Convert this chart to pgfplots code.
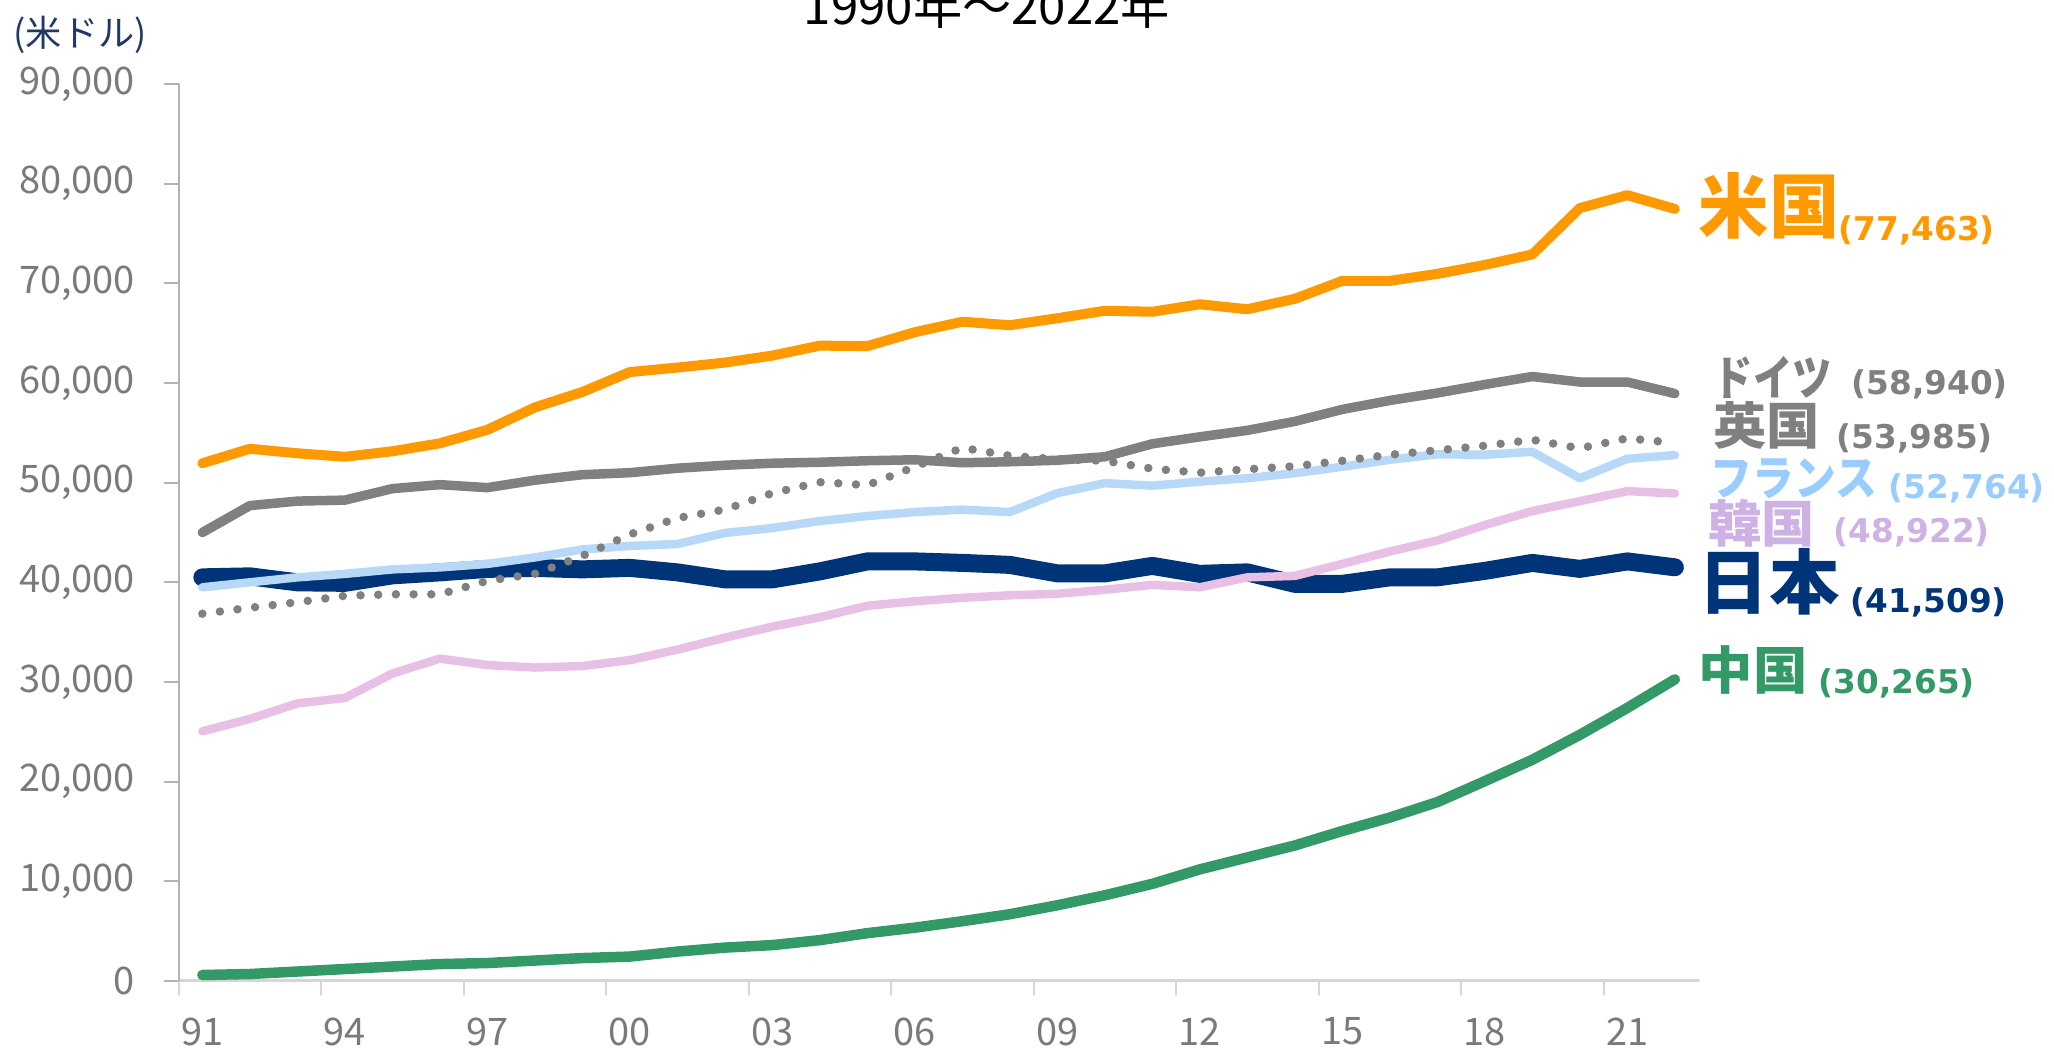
\documentclass[border=0pt]{standalone}
\usepackage{fontspec}
\setmainfont{Noto Sans CJK JP}
\newfontfamily\numfont{DejaVu Sans}
\usepackage{pgfplots}
\usepackage{pgfplotstable}
\pgfplotsset{compat=1.18}

\definecolor{cUS}{HTML}{FF9900}
\definecolor{cDE}{HTML}{808080}
\definecolor{cFRline}{HTML}{B8D8F8}
\definecolor{cFR}{HTML}{99CCFF}
\definecolor{cKRline}{HTML}{E8C0E6}
\definecolor{cKR}{HTML}{CEB2E6}
\definecolor{cJP}{HTML}{003478}
\definecolor{cCN}{HTML}{339966}
\definecolor{tickgray}{HTML}{7A7A7A}
\definecolor{unitnavy}{HTML}{203864}

% GDP per capita, 1991-2022 (USD)
\pgfplotstableread{
year us    de    uk    fr    kr    jp    cn
1991 51950 45000 36850 39500 25050 40500 600
1992 53400 47700 37450 40000 26300 40600 700
1993 52950 48150 38000 40500 27850 40000 950
1994 52600 48250 38650 40850 28400 39950 1200
1995 53150 49400 38800 41300 30850 40700 1450
1996 53950 49800 38800 41500 32350 41000 1700
1997 55300 49500 40150 41850 31700 41350 1800
1998 57550 50250 40850 42500 31450 41450 2050
1999 59100 50800 42650 43300 31600 41300 2300
2000 61100 51000 44800 43650 32200 41450 2450
2001 61550 51450 46450 43850 33250 41000 2950
2002 62050 51750 47300 44950 34450 40300 3350
2003 62750 51950 48950 45450 35550 40300 3600
2004 63750 52050 50050 46150 36500 41100 4100
2005 63700 52200 49750 46650 37650 42100 4800
2006 65100 52300 51600 47050 38100 42100 5350
2007 66150 52000 53500 47300 38450 41950 6000
2008 65800 52100 52700 47050 38700 41750 6700
2009 66500 52250 52350 48950 38850 40900 7600
2010 67250 52600 52200 49950 39250 40900 8600
2011 67150 53900 51400 49700 39750 41650 9750
2012 67900 54600 51000 50100 39500 40850 11200
2013 67400 55250 51350 50450 40500 41000 12400
2014 68450 56150 51650 50950 40650 39850 13600
2015 70250 57350 52200 51600 41850 39850 15050
2016 70250 58250 52800 52300 43100 40500 16400
2017 70950 59000 53250 52850 44200 40500 17950
2018 71850 59850 53700 52800 45750 41150 20050
2019 72900 60650 54300 53100 47150 41950 22200
2020 77550 60100 53450 50450 48150 41350 24700
2021 78850 60100 54450 52400 49150 42100 27400
2022 77463 58940 53985 52764 48922 41509 30265
}\gdp

% label fonts
\newcommand{\nm}[2]{{\fontsize{#1}{#1}\selectfont\bfseries #2}}
\newcommand{\val}[1]{{\fontsize{9.3pt}{10pt}\selectfont\numfont\bfseries (#1)}}

\begin{document}
\begin{tikzpicture}
\useasboundingbox (0,0) rectangle (205.4mm,105.6mm);

\begin{axis}[
    at={(17.86mm,7.5mm)}, anchor=south west,
    scale only axis, width=152mm, height=89.7mm,
    xmin=1990.5, xmax=2022.5, ymin=0, ymax=90000,
    axis x line*=bottom, axis y line*=left,
    x axis line style={draw=black!16, line width=0.3mm, -},
    y axis line style={draw=black!30, line width=0.2mm, -},
    xtick={1991,1994,...,2021},
    xticklabels={91,94,97,00,03,06,09,12,15,18,21},
    minor xtick={1990.5,1993.5,...,2020.5},
    major x tick style={draw=none},
    minor x tick style={draw=black!16, line width=0.2mm},
    ytick={0,10000,...,90000},
    major y tick style={draw=black!30, line width=0.2mm},
    tick align=outside,
    major tick length=1.4mm, minor tick length=1.4mm,
    scaled y ticks=false,
    /pgf/number format/fixed,
    /pgf/number format/1000 sep={,},
    /pgf/number format/assume math mode=true,
    ticklabel style={font=\fontsize{10.8pt}{12pt}\selectfont, text=tickgray},
    yticklabel style={anchor=east, inner sep=0pt, xshift=-2.9mm},
    xticklabel style={anchor=north, inner sep=0pt, yshift=-2.2mm},
    line join=round, line cap=round,
    clip=false,
]
\addplot[no markers, color=cJP, line width=1.8mm] table[x=year, y=jp] {\gdp};
\addplot[no markers, color=cKRline, line width=0.85mm] table[x=year, y=kr] {\gdp};
\addplot[no markers, color=cFRline, line width=0.85mm] table[x=year, y=fr] {\gdp};
\addplot[no markers, color=cDE, line width=0.85mm, dash pattern=on 0pt off 1.77mm] table[x=year, y=uk] {\gdp};
\addplot[no markers, color=cDE, line width=0.95mm] table[x=year, y=de] {\gdp};
\addplot[no markers, color=cUS, line width=1.0mm] table[x=year, y=us] {\gdp};
\addplot[no markers, color=cCN, line width=1.05mm] table[x=year, y=cn] {\gdp};
\end{axis}

% title (cut at the top edge as in the source)
\node[anchor=base, inner sep=0pt, font=\fontsize{14pt}{16pt}\selectfont] at (98.7mm,103.1mm) {1990年～2022年};
% unit
\node[anchor=base west, inner sep=0pt, text=unitnavy, font=\fontsize{10.3pt}{12pt}\selectfont] at (1.3mm,100.9mm) {(米ドル)};

% series names
\begin{scope}[every node/.style={anchor=base west, inner sep=0pt}]
\node[text=cUS] at (169.8mm,82.3mm) {\nm{20pt}{米国}};
\node[text=cDE] at (171.3mm,66.05mm) {\scalebox{0.83}[1]{\nm{13.5pt}{ドイツ}}};
\node[text=cDE] at (171.3mm,61.1mm) {\scalebox{1.06}[1]{\nm{14.3pt}{英国}}};
\node[text=cFR] at (171.0mm,56.0mm) {\scalebox{0.88}[1]{\nm{13.5pt}{フランス}}};
\node[text=cKR] at (170.8mm,51.3mm) {\scalebox{1.06}[1]{\nm{14.3pt}{韓国}}};
\node[text=cJP] at (169.8mm,44.7mm) {\nm{20pt}{日本}};
\node[text=cCN] at (169.8mm,36.6mm) {\scalebox{1.06}[1]{\nm{14.6pt}{中国}}};
% values
\node[text=cUS] at (183.8mm,81.5mm) {\val{77,463}};
\node[text=cDE] at (185.1mm,66.1mm) {\val{58,940}};
\node[text=cDE] at (183.6mm,60.7mm) {\val{53,985}};
\node[text=cFR] at (188.8mm,55.7mm) {\val{52,764}};
\node[text=cKR] at (183.3mm,51.3mm) {\val{48,922}};
\node[text=cJP] at (185.0mm,44.3mm) {\val{41,509}};
\node[text=cCN] at (181.8mm,36.2mm) {\val{30,265}};
\end{scope}
\end{tikzpicture}
\end{document}
